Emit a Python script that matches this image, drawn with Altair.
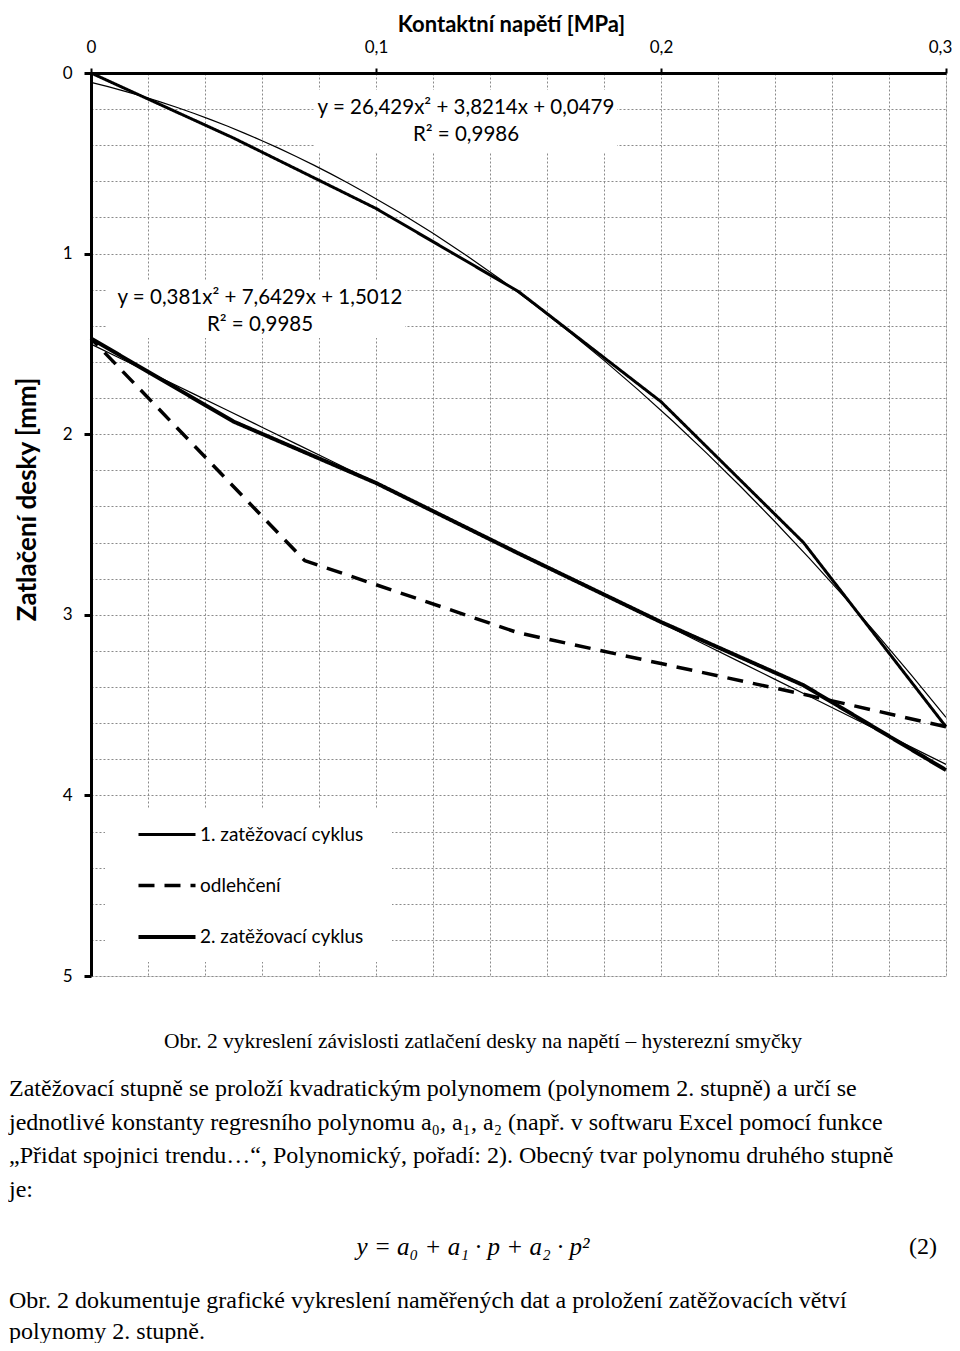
import altair as alt
import pandas as pd

# ---------------- data ----------------
s1, s_un, s2 = "1. zatěžovací cyklus", "odlehčení", "2. zatěžovací cyklus"
series_names = [s1, s_un, s2]

p_load1 = [0, 0.05, 0.10, 0.15, 0.20, 0.25, 0.30]
z_load1 = [0, 0.36, 0.75, 1.21, 1.82, 2.60, 3.62]

p_unload = [0.30, 0.25, 0.20, 0.15, 0.075, 0]
z_unload = [3.62, 3.44, 3.27, 3.10, 2.70, 1.47]

p_load2 = [0, 0.05, 0.10, 0.15, 0.20, 0.25, 0.30]
z_load2 = [1.47, 1.93, 2.27, 2.66, 3.04, 3.39, 3.86]

x_grid = [round(i * 0.02, 2) for i in range(16)]
y_grid = [round(i * 0.2, 1) for i in range(26)]

eq1 = ["y = 26,429x² + 3,8214x + 0,0479", "R² = 0,9986"]
eq2 = ["y = 0,381x² + 7,6429x + 1,5012", "R² = 0,9985"]

caption = "Obr. 2 vykreslení závislosti zatlačení desky na napětí – hysterezní smyčky"
par1 = [
    "Zatěžovací stupně se proloží kvadratickým polynomem (polynomem 2. stupně) a určí se",
    "jednotlivé konstanty regresního polynomu a₀, a₁, a₂ (např. v softwaru Excel pomocí funkce",
    "„Přidat spojnici trendu…“, Polynomický, pořadí: 2). Obecný tvar polynomu druhého stupně",
    "je:",
]
equation = "y = a₀ + a₁ · p + a₂ · p²"
eq_number = "(2)"
par2 = [
    "Obr. 2 dokumentuje grafické vykreslení naměřených dat a proložení zatěžovacích větví",
    "polynomy 2. stupně.",
]

rows = []
for name, ps, zs in [(s1, p_load1, z_load1), (s_un, p_unload, z_unload), (s2, p_load2, z_load2)]:
    for i, (p, z) in enumerate(zip(ps, zs)):
        rows.append({"series": name, "p": p, "z": z, "order": i})
df = pd.DataFrame(rows)

FONT = "Lato"
SERIF = "Liberation Serif"

major_x = "abs(datum.value*10 - round(datum.value*10)) < 0.001"
major_y = "abs(datum.value - round(datum.value)) < 0.001"

x_axis = alt.Axis(
    orient="top", values=x_grid, tickCount=40, grid=True,
    gridColor="#8a8a8a", gridDash=[2, 2], gridWidth=1,
    domainColor="black", domainWidth=3,
    tickColor="black", tickWidth=2, tickSize=5,
    tickOpacity={"condition": {"test": major_x, "value": 1}, "value": 0},
    labelExpr=f"{major_x} ? (datum.value == 0 ? '0' : replace(format(datum.value, '.1f'), '.', ',')) : ''",
    labelOffset={"condition": {"test": "datum.value > 0.29", "value": -6}, "value": 0},
    labelFont=FONT, labelFontSize=17, labelColor="black", labelPadding=12,
    labelFlush=False, labelOverlap=False,
    title="Kontaktní napětí [MPa]", titleFont=FONT, titleFontSize=22,
    titleFontWeight="bold", titleColor="black",
    titleX=420, titleY=-42, titleBaseline="alphabetic",
)
y_axis = alt.Axis(
    orient="left", values=y_grid, tickCount=40, grid=True,
    gridColor="#8a8a8a", gridDash=[2, 2], gridWidth=1,
    domainColor="black", domainWidth=3,
    tickColor="black", tickWidth=3, tickSize=7,
    tickOpacity={"condition": {"test": major_y, "value": 1}, "value": 0},
    labelExpr=f"{major_y} ? format(round(datum.value), 'd') : ''",
    labelFont=FONT, labelFontSize=17, labelColor="black", labelPadding=12,
    labelFlush=False, labelOverlap=False,
    title="Zatlačení desky [mm]", titleFont=FONT, titleFontSize=26,
    titleFontWeight="bold", titleColor="black",
    titleX=-56, titleY=426, titleBaseline="alphabetic", titleAlign="center",
)

xs = alt.Scale(domain=[0, 0.3], nice=False, zero=False)
ys = alt.Scale(domain=[0, 5], reverse=True, nice=False, zero=False)

legend = alt.Legend(
    orient="none", legendX=45, legendY=731, title=None,
    symbolType="stroke", symbolSize=3250, symbolStrokeColor="black",
    labelFont=FONT, labelFontSize=19, labelColor="black", labelOffset=2,
    labelLimit=400, rowPadding=10, padding=0,
)

one = alt.Data(values=[{"k": 1}])

# white boxes behind annotations / legend (cover the grid like in the original)
def white_box(x1, x2, y1, y2):
    return alt.Chart(one).mark_rect(color="white").encode(
        x=alt.value(x1), x2=alt.value(x2), y=alt.value(y1), y2=alt.value(y2))

boxes = [white_box(224, 526, 17, 80), white_box(16, 314, 207, 265), white_box(14, 301, 735, 889)]

lines = alt.Chart(df).mark_line(color="black", strokeJoin="round").encode(
    x=alt.X("p:Q", scale=xs, axis=x_axis),
    y=alt.Y("z:Q", scale=ys, axis=y_axis),
    order="order:Q",
    strokeDash=alt.StrokeDash("series:N", scale=alt.Scale(domain=series_names, range=[[1, 0], [16, 10], [1, 0]]), legend=legend),
    strokeWidth=alt.StrokeWidth("series:N", scale=alt.Scale(domain=series_names, range=[3, 4, 5.5]), legend=legend),
)

trend = alt.Chart(df).transform_filter(
    alt.FieldOneOfPredicate(field="series", oneOf=[s1, s2])
).transform_regression("p", "z", method="poly", order=2, groupby=["series"]).mark_line(
    color="black", strokeWidth=1.2
).encode(x=alt.X("p:Q", scale=xs), y=alt.Y("z:Q", scale=ys), detail="series:N")

def text(t, x, y, size, font=FONT, align="center", baseline="middle", style="normal", lh=None):
    kw = dict(text=t, font=font, fontSize=size, align=align, baseline=baseline, color="black", fontStyle=style)
    if lh is not None:
        kw["lineHeight"] = lh
    return alt.Chart(one).mark_text(**kw).encode(x=alt.value(x), y=alt.value(y))

texts = [
    text(eq1[0], 375, 35, 20.5), text(eq1[1], 375, 62, 20.5),
    text(eq2[0], 169, 225, 20.5), text(eq2[1], 169, 252, 20.5),
    text(caption, 392, 969, 21.5, font=SERIF),
    text(par1, -82, 1023, 24, font=SERIF, align="left", baseline="alphabetic", lh=33.5),
    text(equation, 382, 1174, 25, font=SERIF, style="italic"),
    text(eq_number, 846, 1174, 24, font=SERIF, align="right"),
    text(par2, -82, 1235, 24, font=SERIF, align="left", baseline="alphabetic", lh=31),
]

chart = alt.layer(*boxes, lines, trend, *texts).properties(
    width=855, height=903,
    autosize=alt.AutoSizeParams(type="none"),
    padding={"left": 83, "top": 65, "right": 6, "bottom": 367},
).configure_view(stroke=None).configure(background="white")

chart.save("out.html", embed_options={"renderer": "svg", "actions": False})
